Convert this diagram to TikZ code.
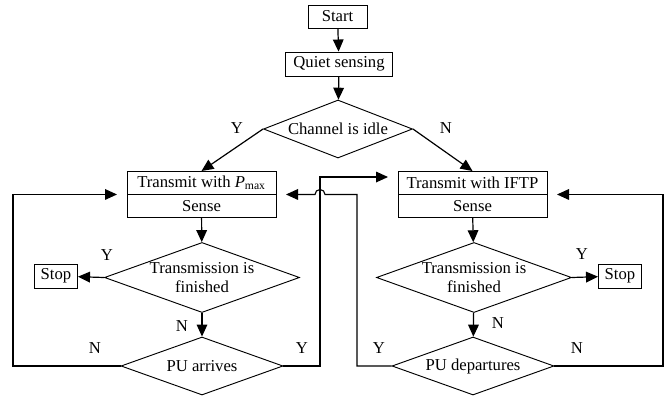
\documentclass[tikz,border=0pt]{standalone}
\usepackage{fontspec}
\setmainfont{Liberation Serif}
\usetikzlibrary{arrows.meta, shapes.geometric, calc}

\begin{document}
\begin{tikzpicture}[
    x=0.75pt, y=-0.75pt,
    >={Triangle[length=9pt, width=8pt]},
    font=\fontsize{12.5}{14}\selectfont,
    box/.style={draw, rectangle, line width=0.7pt, inner sep=0pt,
                minimum height=18pt, align=center},
    part/.style={box, outer sep=0pt, minimum width=111.75pt, minimum height=17.6pt},
    test/.style={draw, diamond, line width=0.7pt, inner sep=0pt,
                 aspect=2.6, align=center},
    flow/.style={->, line width=0.9pt},
    loop/.style={->, line width=0.85pt, shorten >=7.5pt},
    yn/.style={font=\fontsize{12.5}{14}\selectfont},
]
\useasboundingbox (0,0) rectangle (664,399);

% ============================================================
% Boxes and decisions (explicit coordinates, pixels)
% ============================================================
\node[box, minimum width=44.25pt, minimum height=17.25pt] (start) at (337.5,16.5) {Start};
\node[box, minimum width=80.25pt] (quiet) at (339,64) {Quiet sensing};
\node[test, minimum width=111.75pt, minimum height=43.5pt] (chan) at (338,129) {Channel is idle};

\node[part] (ltx) at (201.5,182.75) {Transmit with {\itshape P}\textsubscript{max}};
\node[part, anchor=north] (lsense) at (ltx.south) {Sense};
\node[part] (rtx) at (472.5,182.75) {Transmit with IFTP};
\node[part, anchor=north] (rsense) at (rtx.south) {Sense};

\node[test, minimum width=146.25pt, minimum height=51.75pt] (lfin) at (202,277.5) {Transmission is\\finished};
\node[test, minimum width=146.25pt, minimum height=51.75pt] (rfin) at (474,277.5) {Transmission is\\finished};
\node[box, minimum width=32.25pt] (lstop) at (56,276) {Stop};
\node[box, minimum width=32.25pt] (rstop) at (620,276) {Stop};

\node[test, minimum width=121.5pt, minimum height=43.5pt] (lpu) at (202,366) {PU arrives};
\node[test, minimum width=121.5pt, minimum height=43.5pt] (rpu) at (473,366) {PU departures};

% rails of the loops
\coordinate (lrail) at (13,0);
\coordinate (xrail) at (320,0);
\coordinate (mrail) at (357,0);
\coordinate (rrail) at (663,0);

% ============================================================
% Main flow
% ============================================================
\draw[flow] (start) -- (quiet);
\draw[flow] (quiet) -- (chan);
\draw[flow] (chan.west) -- (ltx.north);
\draw[flow] (chan.east) -- (rtx.north);
\draw[flow] (lsense) -- (lfin);
\draw[flow] (rsense) -- (rfin);
\draw[flow] (lfin.west) -- (lstop);
\draw[flow] (rfin.east) -- (rstop);
\draw[flow] (lfin) -- (lpu);
\draw[flow] (rfin) -- (rpu);

% ============================================================
% Loops back to the transmit boxes
% ============================================================
\draw[loop] (lpu.west) -- (lpu.west -| lrail) |- (ltx.south west);
\draw[loop] (rpu.east) -- (rpu.east -| rrail) |- (rtx.south east);
\draw[loop] (lpu.east) -- (lpu.east -| xrail) |- ($(rtx.north west)+(0,6)$);
\draw[loop] (rpu.west) -- (rpu.west -| mrail) |- ($(xrail |- ltx.south)+(5,0)$)
    arc[start angle=0, end angle=180, radius=3.75pt] -- (ltx.south east);

% ============================================================
% Y / N labels
% ============================================================
\node[yn] (ychan) at (237,128) {Y};
\node[yn] (nchan) at (446,128) {N};
\node[yn] (ylfin) at (107,255) {Y};
\node[yn] (nlfin) at (182,326) {N};
\node[yn] (nlpu) at (95,348) {N};
\node[yn] (ylpu) at (302,348) {Y};
\node[yn] (yrfin) at (582,254) {Y};
\node[yn] (nrfin) at (498,323) {N};
\node[yn] (yrpu) at (379,348) {Y};
\node[yn] (nrpu) at (577,348) {N};

\end{tikzpicture}
\end{document}
